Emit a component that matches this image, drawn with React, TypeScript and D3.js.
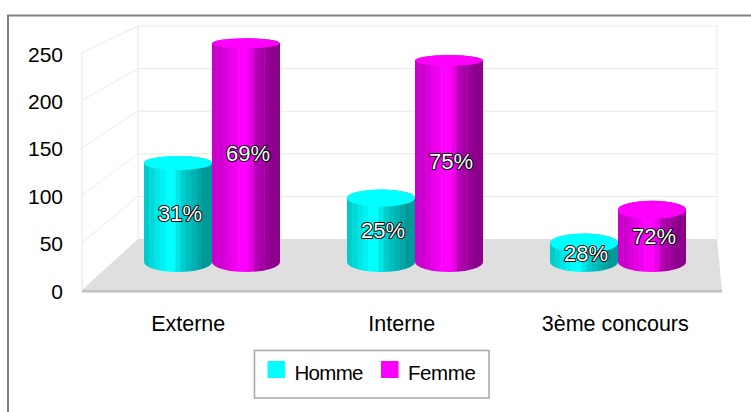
import React from "react";
import * as d3 from "d3";

const categories = ["Externe", "Interne", "3ème concours"];
const seriesNames = ["Homme", "Femme"];
const homme = [110, 71, 21];
const femme = [243, 224, 58];
const hommePct = ["31%", "25%", "28%"];
const femmePct = ["69%", "75%", "72%"];
const yTicks = [0, 50, 100, 150, 200, 250];
const hommeShades = ["#00cccc", "#00d9d9", "#00e6e6", "#00f2f2", "#00ffff", "#00ffff", "#00e6e6", "#00cccc", "#00bfbf", "#00b3b3", "#00a6a6", "#009999", "#009999"];
const femmeShades = ["#cc00cc", "#cc00cc", "#d900d9", "#e600e6", "#f200f2", "#ff00ff", "#ff00ff", "#e600e6", "#b300b3", "#a600a6", "#990099", "#8c008c", "#8c008c"];

const FONT = "'Liberation Sans', Arial, sans-serif";

const W = 751, H = 412;
const yFront = d3.scaleLinear().domain([0, 250]).range([290, 53]);
const yBack = d3.scaleLinear().domain([0, 250]).range([239, 26]);
const yBar = d3.scaleLinear().domain([0, 250]).range([262, 37]);
const xGroup = d3.scaleBand<string>().domain(categories).range([110.5, 719.5]).padding(0);
const xInner = d3.scaleBand<string>().domain(seriesNames).range([33.5, 169.5]).padding(0);
const xLabel = d3.scaleBand<string>().domain(categories).range([81.5, 722]).padding(0);
const topRy = d3.scaleLinear().domain([43, 163, 210, 262]).range([5, 7, 9, 10]);

const left = 82, backLeft = 138, backRight = 717, right = 722;

function Cylinder({ id, x, w, value, shades }: { id: string; x: number; w: number; value: number; shades: string[] }) {
  const top = yBar(value);
  const bottom = yBar(0);
  const rx = w / 2;
  const ry = topRy(top);
  const outline = `M${x},${top} L${x},${bottom} A${rx},10 0 0 0 ${x + w},${bottom} L${x + w},${top} A${rx},${ry} 0 0 0 ${x},${top} Z`;
  const strip = d3.scaleBand<number>().domain(d3.range(shades.length)).range([x, x + w]);
  return (
    <g>
      <clipPath id={id}><path d={outline} /></clipPath>
      <g clipPath={`url(#${id})`}>
        {shades.map((c, i) => (
          <rect key={i} x={strip(i)} y={top - ry - 1} width={strip.bandwidth() + 0.5} height={bottom - top + ry + 13} fill={c} />
        ))}
      </g>
      <ellipse cx={x + rx} cy={top} rx={rx} ry={ry} fill={shades === hommeShades ? "#00ffff" : "#ff00ff"} />
    </g>
  );
}

export default function App() {
  const series = [
    { name: "Homme", values: homme, shades: hommeShades, pct: hommePct },
    { name: "Femme", values: femme, shades: femmeShades, pct: femmePct },
  ];
  return (
    <svg width={W} height={H} viewBox={`0 0 ${W} ${H}`} style={{ position: "absolute", left: 0, top: 0, background: "#fff" }} fontFamily={FONT}>
      <path d={`M8,412 V15.5 H751`} fill="none" stroke="#808080" strokeWidth={2} />

      {/* walls */}
      {yTicks.map((t) => (
        <g key={t}>
          {t > 0 && <line x1={left} y1={yFront(t)} x2={backLeft} y2={yBack(t)} stroke="#ececec" />}
          {t > 0 && <line x1={backLeft} y1={yBack(t)} x2={backRight} y2={yBack(t)} stroke="#e8e8e8" />}
        </g>
      ))}
      <line x1={left} y1={yFront(0)} x2={left} y2={yFront(250)} stroke="#e4e4e4" />
      <line x1={backLeft} y1={yBack(0)} x2={backLeft} y2={yBack(250)} stroke="#e8e8e8" />
      <line x1={backRight} y1={yBack(0)} x2={backRight} y2={yBack(250)} stroke="#e8e8e8" />

      {/* floor */}
      <polygon points={`${left},${yFront(0)} ${backLeft},${yBack(0)} ${backRight},${yBack(0)} ${right},${yFront(0)}`} fill="#dfdfdf" />
      <rect x={left} y={yFront(0)} width={right - left} height={2.5} fill="#c0c0c0" />

      {/* cylinders */}
      {series.map((s) =>
        categories.map((c, i) => (
          <Cylinder key={s.name + c} id={`cyl-${s.name}-${i}`} x={xGroup(c)! + xInner(s.name)!} w={xInner.bandwidth()} value={s.values[i]} shades={s.shades} />
        ))
      )}

      {/* data labels */}
      {series.map((s) =>
        categories.map((c, i) => (
          <text
            key={s.name + c}
            x={xGroup(c)! + xInner(s.name)! + xInner.bandwidth() / 2 + 2}
            y={(yBar(s.values[i]) + yBar(0)) / 2 + 8}
            textAnchor="middle"
            fontSize={22}
            fill="#fff"
            stroke="#000"
            strokeWidth={2}
            paintOrder="stroke"
            strokeLinejoin="round"
          >
            {s.pct[i]}
          </text>
        ))
      )}

      {/* axis labels */}
      {yTicks.map((t) => (
        <text key={t} x={63} y={yFront(t) + 8.5} textAnchor="end" fontSize={21} fill="#000">{t}</text>
      ))}
      {categories.map((c) => (
        <text key={c} x={xLabel(c)! + xLabel.bandwidth() / 2} y={331} textAnchor="middle" fontSize={21.5} fill="#000">{c}</text>
      ))}

      {/* legend */}
      <rect x={254.5} y={350.5} width={234.5} height={47.5} fill="#fff" stroke="#a6a6a6" strokeWidth={1.5} />
      <rect x={267.5} y={361} width={17.5} height={17} fill="#00ffff" />
      <text x={294.5} y={380} fontSize={20.5} letterSpacing={-0.7} fill="#000">{seriesNames[0]}</text>
      <rect x={381} y={361} width={17.5} height={17} fill="#ff00ff" />
      <text x={408} y={380} fontSize={20.5} letterSpacing={-0.4} fill="#000">{seriesNames[1]}</text>
    </svg>
  );
}
